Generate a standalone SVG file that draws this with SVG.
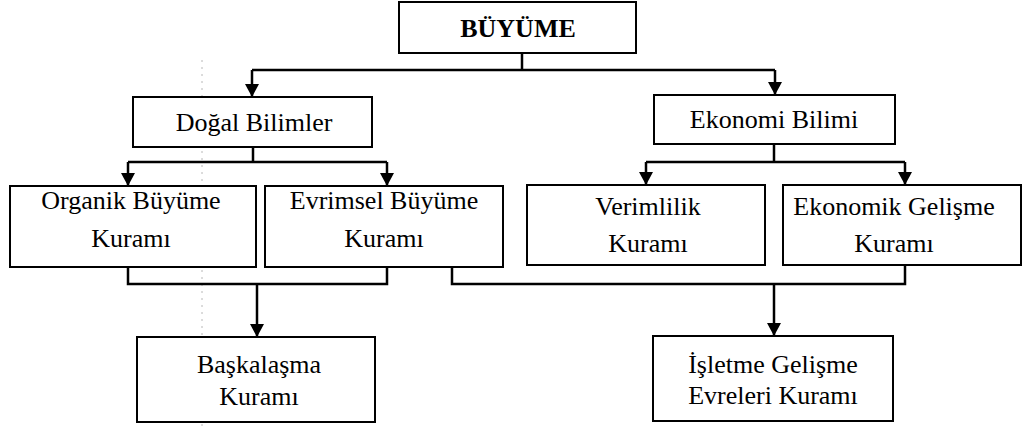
<svg xmlns="http://www.w3.org/2000/svg" width="1022" height="426" viewBox="0 0 1022 426">
  <style>
    .box { fill: #ffffff; stroke: #000000; stroke-width: 2; }
    .lbl { font-family: "Liberation Serif", "Times New Roman", serif; font-size: 26px; fill: #000000; text-anchor: middle; }
    .title { font-weight: bold; }
    .wire { fill: none; stroke: #000000; stroke-width: 2.5; }
    .guide { stroke: #b8b8b8; stroke-width: 1; stroke-dasharray: 2 5; }
  </style>
  <defs>
    <marker id="arrow" markerUnits="userSpaceOnUse" markerWidth="14" markerHeight="14" refX="7" refY="13" viewBox="0 0 14 14" orient="auto-start-reverse">
      <path d="M0,0 L14,0 L7,13 Z" fill="#000000" transform="rotate(-90 7 7)"/>
    </marker>
    <marker id="down" markerUnits="userSpaceOnUse" markerWidth="14" markerHeight="14" refX="7" refY="13" viewBox="0 0 14 14" orient="0">
      <path d="M0,0 L14,0 L7,13 Z" fill="#000000"/>
    </marker>
  </defs>

  <!-- faint vertical guide line -->
  <line class="guide" x1="202" y1="60" x2="202" y2="426"/>

  <g id="connectors">
    <!-- BÜYÜME to the two branches -->
    <path class="wire" d="M522,53 V70"/>
    <path class="wire" d="M252,70 H775"/>
    <path class="wire" d="M252,70 V97" marker-end="url(#down)"/>
    <path class="wire" d="M775,70 V95" marker-end="url(#down)"/>
    <!-- Doğal Bilimler to its theories -->
    <path class="wire" d="M253,147 V162"/>
    <path class="wire" d="M128,162 H387"/>
    <path class="wire" d="M128,162 V186" marker-end="url(#down)"/>
    <path class="wire" d="M387,162 V186" marker-end="url(#down)"/>
    <!-- Ekonomi Bilimi to its theories -->
    <path class="wire" d="M774,144 V162"/>
    <path class="wire" d="M646,162 H905"/>
    <path class="wire" d="M646,162 V185" marker-end="url(#down)"/>
    <path class="wire" d="M905,162 V185" marker-end="url(#down)"/>
    <!-- merge into Başkalaşma Kuramı -->
    <path class="wire" d="M128,267 V284 H387 V267"/>
    <path class="wire" d="M257,284 V337" marker-end="url(#down)"/>
    <!-- merge into İşletme Gelişme Evreleri Kuramı -->
    <path class="wire" d="M452,267 V284 H905 V265"/>
    <path class="wire" d="M774,284 V336" marker-end="url(#down)"/>
  </g>

  <g id="buyume">
    <rect class="box" x="399" y="2" width="237" height="51"/>
    <text class="lbl title" x="518" y="37">BÜYÜME</text>
  </g>

  <g id="dogal-bilimler">
    <rect class="box" x="133" y="97" width="239" height="50"/>
    <text class="lbl" x="254" y="131">Doğal Bilimler</text>
  </g>

  <g id="ekonomi-bilimi">
    <rect class="box" x="654" y="95" width="241" height="49"/>
    <text class="lbl" x="774" y="128">Ekonomi Bilimi</text>
  </g>

  <g id="organik">
    <rect class="box" x="10" y="186" width="246" height="81"/>
    <text class="lbl" x="131" y="209">Organik Büyüme</text>
    <text class="lbl" x="131" y="247">Kuramı</text>
  </g>

  <g id="evrimsel">
    <rect class="box" x="265" y="186" width="238" height="81"/>
    <text class="lbl" x="384" y="209">Evrimsel Büyüme</text>
    <text class="lbl" x="384" y="247">Kuramı</text>
  </g>

  <g id="verimlilik">
    <rect class="box" x="527" y="185" width="238" height="80"/>
    <text class="lbl" x="648" y="215">Verimlilik</text>
    <text class="lbl" x="648" y="252">Kuramı</text>
  </g>

  <g id="ekonomik-gelisme">
    <rect class="box" x="783" y="185" width="238" height="80"/>
    <text class="lbl" x="894" y="215">Ekonomik Gelişme</text>
    <text class="lbl" x="894" y="252">Kuramı</text>
  </g>

  <g id="baskalasma">
    <rect class="box" x="137" y="337" width="238" height="85"/>
    <text class="lbl" x="259" y="373">Başkalaşma</text>
    <text class="lbl" x="259" y="405">Kuramı</text>
  </g>

  <g id="isletme-gelisme">
    <rect class="box" x="653" y="336" width="240" height="85"/>
    <text class="lbl" x="773" y="373">İşletme Gelişme</text>
    <text class="lbl" x="773" y="404">Evreleri Kuramı</text>
  </g>
</svg>
